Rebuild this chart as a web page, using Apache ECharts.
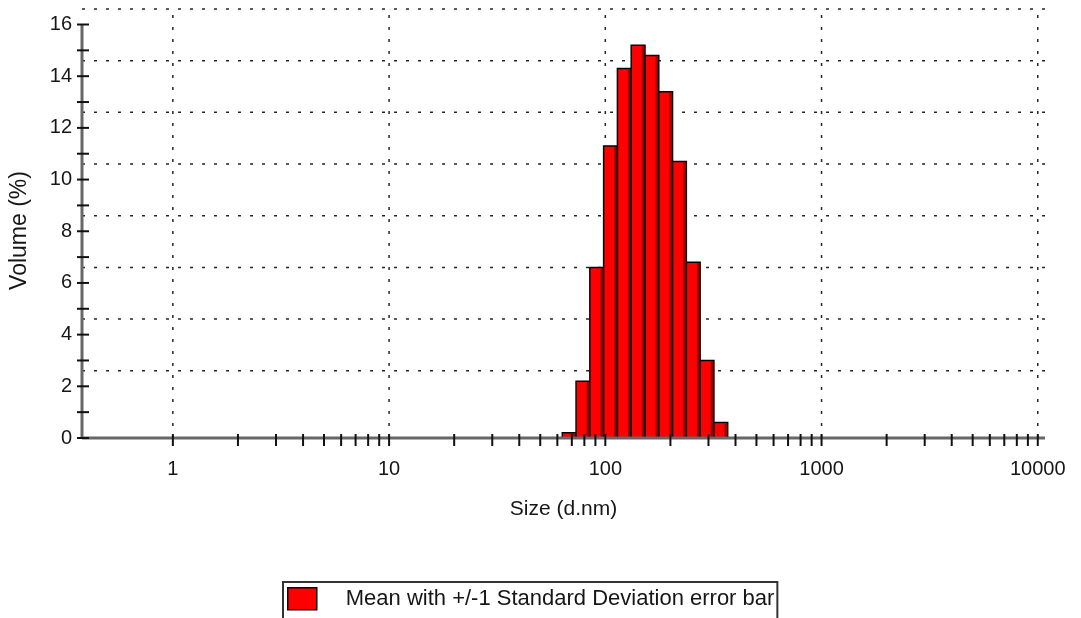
<!DOCTYPE html>
<html>
<head>
<meta charset="utf-8">
<script src="https://cdn.jsdelivr.net/npm/echarts@6/dist/echarts.min.js"></script>
<style>
  html, body { margin: 0; padding: 0; background: #fff; }
  #chart { width: 1081px; height: 618px; }
</style>
</head>
<body>
<div id="chart"></div>
<script>
// Size classes (d.nm) at the centre of each histogram bin
const sizeClasses = [68.06, 78.82, 91.28, 105.7, 122.4, 141.8, 164.2, 190.1, 220.2, 255.0, 295.3, 342.0];
// Volume distribution (%) for each class
const volumePct = [0.2, 2.2, 6.6, 11.3, 14.3, 15.2, 14.8, 13.4, 10.7, 6.8, 3.0, 0.6];

// Axis ticks and grid levels
const xMajorTicks = [1, 10, 100, 1000, 10000];
const xMinorTicks = [2, 3, 4, 5, 6, 7, 8, 9,
                     20, 30, 40, 50, 60, 70, 80, 90,
                     200, 300, 400, 500, 600, 700, 800, 900,
                     2000, 3000, 4000, 5000, 6000, 7000, 8000, 9000];
const yTickValues = [0, 1, 2, 3, 4, 5, 6, 7, 8, 9, 10, 11, 12, 13, 14, 15, 16];
const hGridLevels = [2.6, 4.6, 6.6, 8.6, 10.6, 12.6, 14.6, 16.6];
const vGridValues = [1, 10, 100, 1000, 10000];

const X_MIN = 0.38, X_MAX = 10800;
const Y_MIN = 0, Y_MAX = 16.6, Y_AXIS_TOP = 16;
const LEGEND_NAME = 'Mean with +/-1 Standard Deviation error bar';
const FONT = 'Liberation Sans, Arial, sans-serif';
const TEXT_COLOR = '#161616';

// Bin edges: geometric midpoints between neighbouring size classes
function binEdges(centres) {
  const edges = [];
  for (let i = 0; i < centres.length; i++) {
    const prev = i > 0 ? centres[i - 1] : centres[0] * centres[0] / centres[1];
    const next = i < centres.length - 1 ? centres[i + 1] : centres[i] * centres[i] / centres[i - 1];
    edges.push([Math.sqrt(prev * centres[i]), Math.sqrt(centres[i] * next)]);
  }
  return edges;
}
const edges = binEdges(sizeClasses);
const barData = sizeClasses.map((s, i) => [s, volumePct[i], edges[i][0], edges[i][1]]);

function isPow10(v) {
  const l = Math.log10(v);
  return Math.abs(l - Math.round(l)) < 1e-6;
}

const chart = echarts.init(document.getElementById('chart'), null, { renderer: 'canvas' });

const lineSeries = (name, data, z, render) => ({
  type: 'custom', name, data, z, silent: true,
  renderItem: render
});

const option = {
  backgroundColor: '#ffffff',
  animation: false,
  grid: { left: 82, right: 36, top: 9, bottom: 180 },
  legend: {
    data: [{ name: LEGEND_NAME, icon: 'rect',
             itemStyle: { color: '#ff0000', borderColor: '#000', borderWidth: 1.5 } }],
    left: 283, top: 582,
    itemWidth: 29, itemHeight: 22,
    padding: [5, 3, 30, 4],
    borderColor: '#333', borderWidth: 2,
    selectedMode: false,
    textStyle: { fontFamily: FONT, fontSize: 22, color: TEXT_COLOR, padding: [0, 0, 0, 24] }
  },
  xAxis: {
    type: 'log', logBase: 10, min: X_MIN, max: X_MAX,
    name: 'Size (d.nm)', nameLocation: 'middle', nameGap: 61,
    nameTextStyle: { fontFamily: FONT, fontSize: 21, color: TEXT_COLOR },
    axisLine: { show: false }, axisTick: { show: false }, splitLine: { show: false },
    axisLabel: {
      margin: 21, fontFamily: FONT, fontSize: 20, color: TEXT_COLOR,
      showMinLabel: false, showMaxLabel: false,
      formatter: v => isPow10(v) ? String(Math.round(v)) : ''
    }
  },
  yAxis: {
    type: 'value', min: Y_MIN, max: Y_MAX, interval: 2,
    name: 'Volume (%)', nameLocation: 'middle', nameGap: 51, nameRotate: 90,
    nameTextStyle: { fontFamily: FONT, fontSize: 23, color: TEXT_COLOR, padding: [0, 14, 0, 0] },
    axisLine: { show: false }, axisTick: { show: false }, splitLine: { show: false },
    axisLabel: {
      margin: 10, fontFamily: FONT, fontSize: 20, color: TEXT_COLOR,
      showMaxLabel: false,
      formatter: v => (Math.abs(v - Math.round(v)) < 1e-6 && Math.round(v) % 2 === 0) ? String(Math.round(v)) : ''
    }
  },
  series: [
    // dotted horizontal grid
    lineSeries('hgrid', hGridLevels.map(v => [X_MIN, v]), 1, (params, api) => {
      const a = api.coord([X_MIN, api.value(1)]);
      const b = api.coord([X_MAX, api.value(1)]);
      return { type: 'line', shape: { x1: a[0], y1: a[1], x2: b[0] + 3, y2: b[1] },
               style: { stroke: '#262626', lineWidth: 1.5, lineDash: [3, 9] } };
    }),
    // dotted vertical grid
    lineSeries('vgrid', vGridValues.map(v => [v, Y_MIN]), 1, (params, api) => {
      const a = api.coord([api.value(0), Y_MIN]);
      const b = api.coord([api.value(0), Y_MAX]);
      return { type: 'line', shape: { x1: a[0], y1: a[1], x2: b[0], y2: b[1] - 2 },
               style: { stroke: '#262626', lineWidth: 1.5, lineDash: [3, 9] } };
    }),
    // volume histogram
    {
      type: 'custom', name: LEGEND_NAME, z: 2,
      itemStyle: { color: '#ff0000', borderColor: '#000', borderWidth: 1.5 },
      data: barData,
      renderItem: (params, api) => {
        const tl = api.coord([api.value(2), api.value(1)]);
        const br = api.coord([api.value(3), 0]);
        const w = br[0] - tl[0], h = br[1] - tl[1];
        return {
          type: 'group',
          children: [
            { type: 'rect', shape: { x: tl[0], y: tl[1], width: w, height: h },
              style: { fill: '#ff0000', stroke: '#000', lineWidth: 1.5 } },
            { type: 'rect', shape: { x: br[0] - 3.2, y: tl[1] + 1, width: 2.4, height: h - 1 },
              style: { fill: '#9a0000' } }
          ]
        };
      }
    },
    // axis lines
    lineSeries('axes', [[X_MIN, 0, 0], [X_MIN, 0, 1]], 3, (params, api) => {
      const o = api.coord([X_MIN, 0]);
      const shape = params.dataIndex === 0
        ? { x1: o[0], y1: o[1], x2: api.coord([X_MAX, 0])[0], y2: o[1] }
        : { x1: o[0], y1: o[1], x2: o[0], y2: api.coord([X_MIN, Y_AXIS_TOP])[1] };
      return { type: 'line', shape, style: { stroke: '#676767', lineWidth: 3 } };
    }),
    // x ticks
    lineSeries('xticks', xMajorTicks.concat(xMinorTicks).map(v => [v, 0]), 4, (params, api) => {
      const p = api.coord([api.value(0), 0]);
      return { type: 'line', shape: { x1: p[0], y1: p[1] - 4, x2: p[0], y2: p[1] + 8 },
               style: { stroke: '#111', lineWidth: 2 } };
    }),
    // y ticks
    lineSeries('yticks', yTickValues.map(v => [X_MIN, v]), 4, (params, api) => {
      const p = api.coord([X_MIN, api.value(1)]);
      return { type: 'line', shape: { x1: p[0] - 5, y1: p[1], x2: p[0] + 7, y2: p[1] },
               style: { stroke: '#111', lineWidth: 2 } };
    })
  ]
};

chart.setOption(option);
</script>
</body>
</html>
